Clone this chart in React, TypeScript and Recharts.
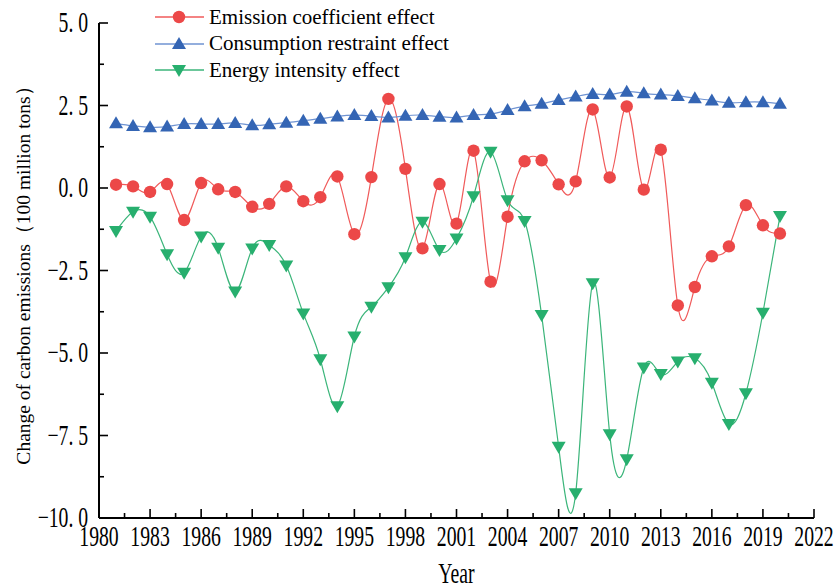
import { LineChart, Line, XAxis, YAxis, Legend, Label } from "recharts";
/* eslint-disable  @typescript-eslint/no-explicit-any */

const RED = "#EC4848";
const RED_LINE = "#F05A5A";
const BLUE = "#3465B4";
const BLUE_LINE = "#6F93D2";
const GREEN = "#27AF6E";
const GREEN_LINE = "#3BB57A";
const FONT = "'Liberation Serif', 'Times New Roman', serif";

const years = [
  1981, 1982, 1983, 1984, 1985, 1986, 1987, 1988, 1989, 1990,
  1991, 1992, 1993, 1994, 1995, 1996, 1997, 1998, 1999, 2000,
  2001, 2002, 2003, 2004, 2005, 2006, 2007, 2008, 2009, 2010,
  2011, 2012, 2013, 2014, 2015, 2016, 2017, 2018, 2019, 2020,
];

const emissionCoef = [
  0.1, 0.05, -0.12, 0.12, -0.97, 0.15, -0.04, -0.12, -0.57, -0.48,
  0.05, -0.4, -0.28, 0.35, -1.4, 0.33, 2.7, 0.58, -1.83, 0.12,
  -1.08, 1.13, -2.84, -0.87, 0.81, 0.84, 0.11, 0.2, 2.38, 0.32,
  2.47, -0.05, 1.16, -3.56, -3.0, -2.07, -1.77, -0.52, -1.13, -1.38,
];

const consumption = [
  1.96, 1.88, 1.84, 1.86, 1.94, 1.94, 1.94, 1.97, 1.9, 1.93,
  1.98, 2.04, 2.1, 2.17, 2.21, 2.18, 2.14, 2.19, 2.21, 2.16,
  2.14, 2.21, 2.24, 2.36, 2.48, 2.55, 2.67, 2.77, 2.85, 2.83,
  2.92, 2.87, 2.83, 2.79, 2.72, 2.65, 2.58, 2.6, 2.6, 2.55,
];

const energyIntensity = [
  -1.3, -0.72, -0.87, -2.01, -2.57, -1.47, -1.81, -3.14, -1.83, -1.73,
  -2.35, -3.8, -5.19, -6.61, -4.5, -3.6, -3.01, -2.1, -1.02, -1.88,
  -1.53, -0.25, 1.1, -0.37, -1.0, -3.85, -7.84, -9.25, -2.89, -7.46,
  -8.22, -5.44, -5.64, -5.26, -5.16, -5.9, -7.15, -6.22, -3.78, -0.85,
];

const xTicks = [
  1980, 1981.5, 1983, 1984.5, 1986, 1987.5, 1989, 1990.5, 1992, 1993.5,
  1995, 1996.5, 1998, 1999.5, 2001, 2002.5, 2004, 2005.5, 2007, 2008.5,
  2010, 2011.5, 2013, 2014.5, 2016, 2017.5, 2019, 2020.5, 2022,
];
const xLabels = [1980, 1983, 1986, 1989, 1992, 1995, 1998, 2001, 2004, 2007, 2010, 2013, 2016, 2019, 2022];

const yTicks = [-10, -8.75, -7.5, -6.25, -5, -3.75, -2.5, -1.25, 0, 1.25, 2.5, 3.75, 5];
const yLabels = [-10, -7.5, -5, -2.5, 0, 2.5, 5];

const data = years.map((year, i) => ({
  year,
  emission: emissionCoef[i],
  consumption: consumption[i],
  intensity: energyIntensity[i],
}));

// the tick font in the original is tall and narrow, so squeeze it sideways
const NarrowText = ({ x, y, anchor, children }: any) => (
  <text
    transform={`translate(${x},${y}) scale(0.68,1)`}
    textAnchor={anchor}
    fontFamily={FONT}
    fontSize={29}
    fill="#000"
  >
    {children}
  </text>
);

const XTick = (props: any) => {
  const { x, y, payload } = props;
  const v = payload.value;
  const major = xLabels.includes(v);
  return (
    <g>
      <line x1={x} y1={y} x2={x} y2={y - (major ? 9 : 5)} stroke="#000" strokeWidth={1.6} />
      {major && (
        <NarrowText x={x} y={y + 28} anchor="middle">
          {v}
        </NarrowText>
      )}
    </g>
  );
};

const YTick = (props: any) => {
  const { x, y, payload } = props;
  const v = payload.value;
  const major = yLabels.includes(v);
  const [whole, frac] = Math.abs(v).toFixed(1).split(".");
  return (
    <g>
      <line x1={x} y1={y} x2={x + (major ? 9 : 5)} y2={y} stroke="#000" strokeWidth={1.6} />
      {major && (
        <NarrowText x={x - 11} y={y + 9} anchor="end">
          {(v < 0 ? "\u2212" : "") + whole + "."}
          <tspan dx={7}>{frac}</tspan>
        </NarrowText>
      )}
    </g>
  );
};

const CircleDot = (props: any) => {
  const { cx, cy } = props;
  if (cx == null || cy == null) return <g />;
  return <circle cx={cx} cy={cy} r={6.2} fill={RED} />;
};

const UpTriangle = (props: any) => {
  const { cx, cy } = props;
  if (cx == null || cy == null) return <g />;
  return <path d={`M${cx},${cy - 7} L${cx + 7},${cy + 5} L${cx - 7},${cy + 5} Z`} fill={BLUE} />;
};

const DownTriangle = (props: any) => {
  const { cx, cy } = props;
  if (cx == null || cy == null) return <g />;
  return <path d={`M${cx},${cy + 7} L${cx + 7},${cy - 5} L${cx - 7},${cy - 5} Z`} fill={GREEN} />;
};

const legendItems = [
  { name: "Emission coefficient effect", line: RED_LINE, Marker: CircleDot },
  { name: "Consumption restraint effect", line: BLUE_LINE, Marker: UpTriangle },
  { name: "Energy intensity effect", line: GREEN_LINE, Marker: DownTriangle },
];

const CustomLegend = () => (
  <div style={{ fontFamily: FONT, fontSize: 21, color: "#000" }}>
    {legendItems.map(({ name, line, Marker }) => (
      <div key={name} style={{ display: "flex", alignItems: "center", height: 26.5, whiteSpace: "nowrap" }}>
        <svg width={49} height={20} style={{ marginRight: 5, flexShrink: 0 }}>
          <line x1={0} y1={10} x2={49} y2={10} stroke={line} strokeWidth={1.3} />
          <Marker cx={24} cy={10} />
        </svg>
        <span>{name}</span>
      </div>
    ))}
  </div>
);

export default function App() {
  return (
    <div style={{ position: "absolute", left: 0, top: 0, background: "#fff" }}>
      <LineChart
        width={835}
        height={588}
        data={data}
        margin={{ top: 23, right: 21, bottom: 40, left: 39 }}
      >
        <XAxis
          dataKey="year"
          type="number"
          domain={[1980, 2022]}
          ticks={xTicks}
          interval={0}
          tickSize={0}
          tickMargin={0}
          tickLine={false}
          tick={<XTick />}
          height={30}
          axisLine={{ stroke: "#000", strokeWidth: 2 }}
        >
          <Label
            content={(p: any) => {
              const vb = p.viewBox;
              return (
                <NarrowText x={vb.x + vb.width / 2} y={vb.y + 65} anchor="middle">
                  Year
                </NarrowText>
              );
            }}
          />
        </XAxis>
        <YAxis
          type="number"
          domain={[-10, 5]}
          ticks={yTicks}
          interval={0}
          tickSize={0}
          tickMargin={0}
          tickLine={false}
          tick={<YTick />}
          width={60}
          axisLine={{ stroke: "#000", strokeWidth: 2 }}
        >
          <Label
            content={(p: any) => {
              const vb = p.viewBox;
              const cx = 23;
              const cy = vb.y + vb.height / 2;
              return (
                <text
                  x={cx}
                  y={cy}
                  transform={`rotate(-90, ${cx}, ${cy})`}
                  textAnchor="middle"
                  dominantBaseline="central"
                  fontFamily={FONT}
                  fontSize={19.5}
                  fill="#000"
                >
                  Change of carbon emissions（100 million tons）
                </text>
              );
            }}
          />
        </YAxis>
        <Legend
          verticalAlign="middle"
          align="center"
          layout="horizontal"
          content={<CustomLegend />}
          wrapperStyle={{ left: 155, top: 4, width: 340 }}
        />
        <Line
          type="natural"
          dataKey="emission"
          name="Emission coefficient effect"
          stroke={RED_LINE}
          strokeWidth={1.2}
          dot={<CircleDot />}
          activeDot={false}
          isAnimationActive={false}
        />
        <Line
          type="natural"
          dataKey="consumption"
          name="Consumption restraint effect"
          stroke={BLUE_LINE}
          strokeWidth={1.2}
          dot={<UpTriangle />}
          activeDot={false}
          isAnimationActive={false}
        />
        <Line
          type="natural"
          dataKey="intensity"
          name="Energy intensity effect"
          stroke={GREEN_LINE}
          strokeWidth={1.2}
          dot={<DownTriangle />}
          activeDot={false}
          isAnimationActive={false}
        />
      </LineChart>
    </div>
  );
}
